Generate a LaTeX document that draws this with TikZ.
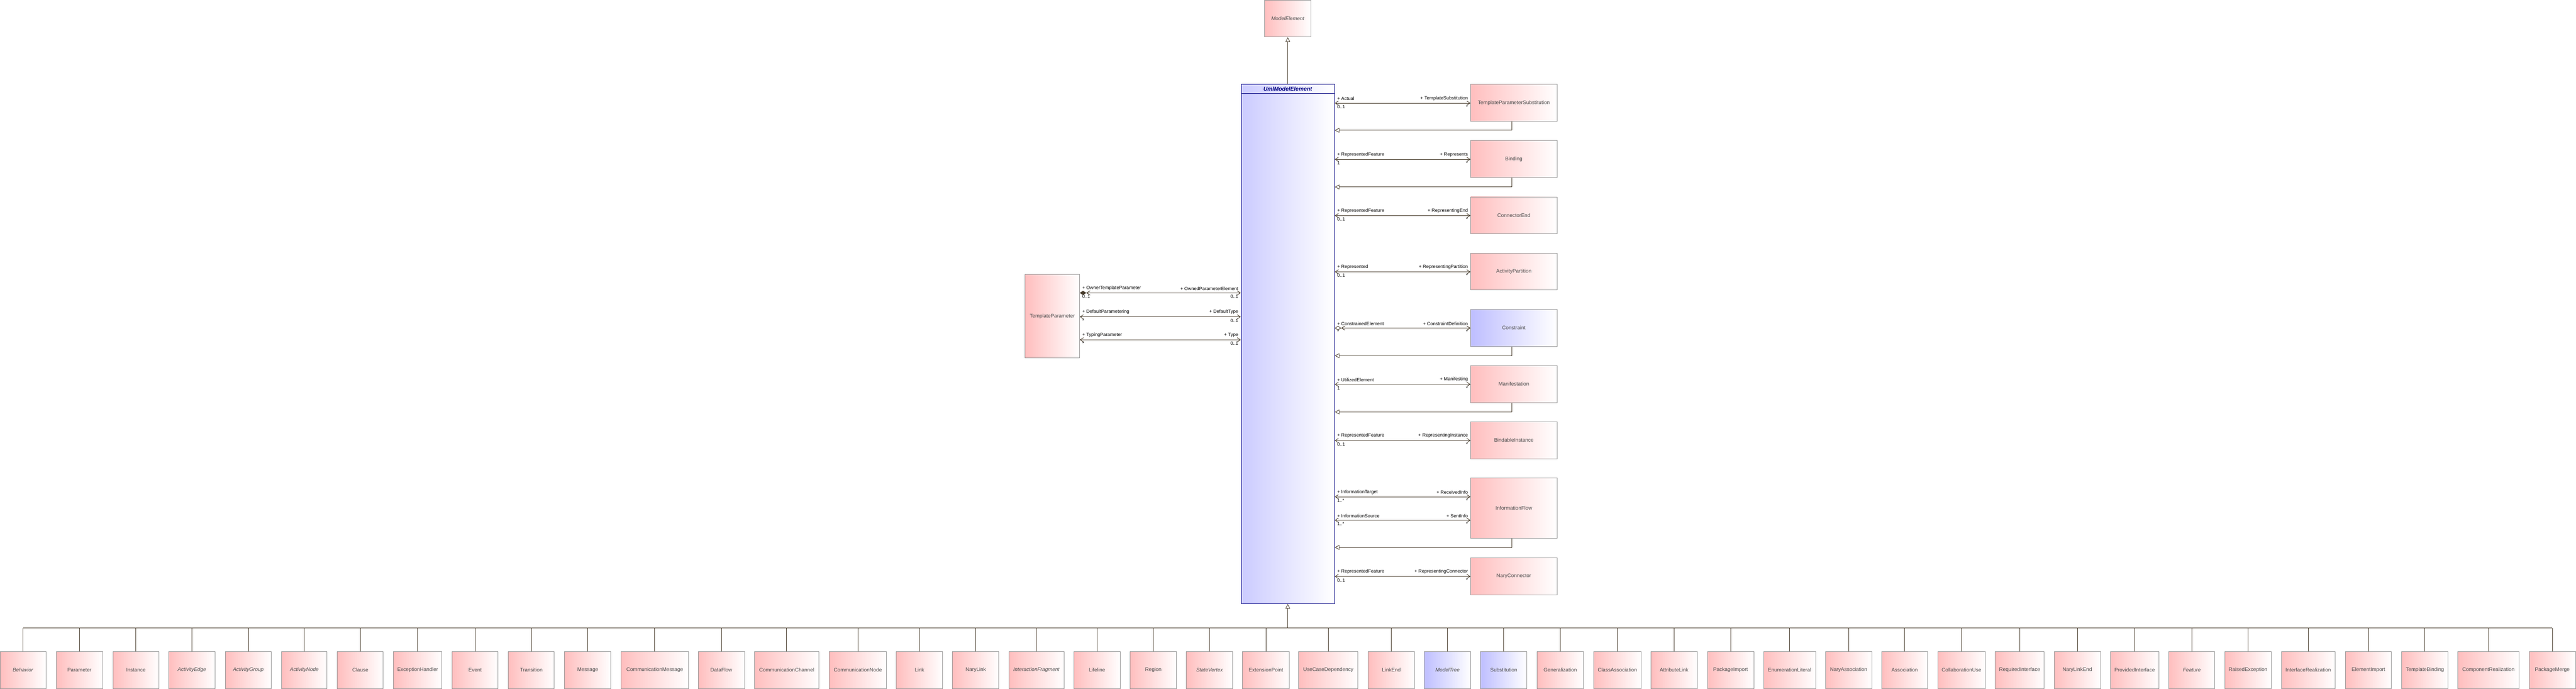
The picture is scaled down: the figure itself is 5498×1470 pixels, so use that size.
\documentclass[tikz,border=0pt]{standalone}
\usepackage{fontspec}
\setmainfont{Liberation Sans}
\usetikzlibrary{arrows.meta,positioning}

\definecolor{pinkL}{RGB}{255,190,190}
\definecolor{blueL}{RGB}{190,190,255}
\definecolor{umlline}{RGB}{70,58,42}
\definecolor{umlgray}{RGB}{150,150,150}
\definecolor{umlnavy}{RGB}{0,0,128}

\tikzset{
  barb/.tip={Straight Barb[length=7pt,width=9pt,line width=1pt]},
  cls/.style={draw=umlgray, line width=1pt, left color=pinkL, right color=white,
    shading angle=90, inner sep=0pt, text=black!70, font=\fontsize{11}{13}\selectfont},
  bcls/.style={cls, left color=blueL},
  icls/.style={cls, font=\fontsize{11}{13}\selectfont\itshape},
  bicls/.style={bcls, font=\fontsize{11}{13}\selectfont\itshape},
  role/.style={font=\fontsize{10}{12}\selectfont, inner sep=2pt},
  assoc/.style={barb-barb, draw=umlline, line width=1pt},
  gen/.style={-{Triangle[open,length=10pt,width=10pt,fill=white]}, draw=umlline, line width=1pt},
  tree/.style={draw=umlline, line width=1pt}
}

\begin{document}
\begin{tikzpicture}[x=1pt, y=-1pt]
\useasboundingbox (0,0) rectangle (5498,1470);

% centre column
\node [icls, minimum width=99pt, minimum height=79pt] (ME) at (2748.5,39.5) {ModelElement};
\node [draw=umlnavy, line width=1.2pt, left color=blueL!80, right color=white, shading angle=90,
  minimum width=199pt, minimum height=1108pt, inner sep=0pt] (UME) at (2748.5,734) {};
\node [font=\fontsize{12}{14}\selectfont\bfseries\itshape, text=umlnavy, below=2pt of UME.north] {UmlModelElement};
\draw [umlnavy, line width=1.2pt] (UME.north west) ++(0,20) -- ++(199,0);
\draw [gen] (UME.north) -- (ME.south);

% right column
\node [cls, minimum width=184pt, minimum height=79pt] (TPS) at (3231,219.5) {TemplateParameterSubstitution};
\node [cls, minimum width=184pt, minimum height=79pt] (Bnd) at (3231,339.5) {Binding};
\node [cls, minimum width=184pt, minimum height=79pt] (CEnd) at (3231,459.5) {ConnectorEnd};
\node [cls, minimum width=184pt, minimum height=79pt] (APart) at (3231,579.5) {ActivityPartition};
\node [bcls, minimum width=184pt, minimum height=79pt] (Cstr) at (3231,699.5) {Constraint};
\node [cls, minimum width=184pt, minimum height=79pt] (Mani) at (3231,819.5) {Manifestation};
\node [cls, minimum width=184pt, minimum height=79pt] (BInst) at (3231,939.5) {BindableInstance};
\node [cls, minimum width=184pt, minimum height=129pt] (IFlow) at (3231,1084.5) {InformationFlow};
\node [cls, minimum width=184pt, minimum height=79pt] (NConn) at (3231,1229.5) {NaryConnector};

\foreach \bx/\y/\lr/\lm/\rr/\rm in {
  TPS/220/Actual/0..1/TemplateSubstitution/*,
  Bnd/340/RepresentedFeature/1/Represents/*,
  CEnd/460/RepresentedFeature/0..1/RepresentingEnd/*,
  APart/580/Represented/0..1/RepresentingPartition/*,
  Mani/820/UtilizedElement/1/Manifesting/*,
  BInst/940/RepresentedFeature/0..1/RepresentingInstance/*,
  IFlow/1060/InformationTarget/1..*/ReceivedInfo/*,
  IFlow/1110/InformationSource/1..*/SentInfo/*,
  NConn/1230/RepresentedFeature/0..1/RepresentingConnector/*}
{
  \draw [assoc] (UME.east |- 0,\y) -- (\bx.west |- 0,\y)
    node [role, pos=0, anchor=south west, xshift=3pt, yshift=3pt] {+ \lr}
    node [role, pos=0, anchor=north west, xshift=3pt, yshift=-2pt] {\lm}
    node [role, pos=1, anchor=south east, xshift=-3pt, yshift=3pt] {+ \rr}
    node [role, pos=1, anchor=north east, xshift=-3pt, yshift=-2pt] {\rm};
}
\draw [{Diamond[open,length=14pt,width=9pt,line width=1pt] barb}-barb, draw=umlline, line width=1pt]
  (UME.east |- 0,700) -- (Cstr.west |- 0,700)
  node [role, pos=0, anchor=south west, xshift=3pt, yshift=3pt] {+ ConstrainedElement}
  node [role, pos=0, anchor=north west, xshift=3pt, yshift=-2pt] {*}
  node [role, pos=1, anchor=south east, xshift=-3pt, yshift=3pt] {+ ConstraintDefinition}
  node [role, pos=1, anchor=north east, xshift=-3pt, yshift=-2pt] {*};

\foreach \bx/\y in {TPS/278, Bnd/399, Cstr/759, Mani/879, IFlow/1168}
  \draw [gen] (\bx.south -| 3227,0) |- (UME.east |- 0,\y);

% left class
\node [cls, minimum width=116pt, minimum height=179pt] (TP) at (2246,674.5) {TemplateParameter};
\draw [{Diamond[length=14pt,width=9pt,line width=1pt] barb}-barb, draw=umlline, line width=1pt]
  (TP.east |- 0,625) -- (UME.west |- 0,625)
  node [role, pos=0, anchor=south west, xshift=3pt, yshift=3pt] {+ OwnerTemplateParameter}
  node [role, pos=0, anchor=north west, xshift=3pt, yshift=-2pt] {0..1}
  node [role, pos=1, anchor=south east, xshift=-3pt, yshift=3pt] {+ OwnedParameterElement}
  node [role, pos=1, anchor=north east, xshift=-3pt, yshift=-2pt] {0..1};
\foreach \y/\lr/\rr in {676/DefaultParametering/DefaultType, 725/TypingParameter/Type}
  \draw [assoc] (TP.east |- 0,\y) -- (UME.west |- 0,\y)
    node [role, pos=0, anchor=south west, xshift=3pt, yshift=3pt] {+ \lr}
    node [role, pos=0, anchor=north west, xshift=3pt, yshift=-2pt] {*}
    node [role, pos=1, anchor=south east, xshift=-3pt, yshift=3pt] {+ \rr}
    node [role, pos=1, anchor=north east, xshift=-3pt, yshift=-2pt] {0..1};

% bottom row of specialisations
\coordinate (bus) at (0,1340);
\foreach \nm/\xa/\xb/\sty in {
  Behavior/0/98/icls, Parameter/120/219/cls, Instance/241/339/cls,
  ActivityEdge/360/459/icls, ActivityGroup/481/579/icls, ActivityNode/601/698/icls,
  Clause/720/818/cls, ExceptionHandler/840/943/cls, Event/965/1063/cls,
  Transition/1085/1183/cls, Message/1205/1304/cls, CommunicationMessage/1326/1469/cls,
  DataFlow/1490/1589/cls, CommunicationChannel/1610/1748/cls, CommunicationNode/1770/1892/cls,
  Link/1913/2012/cls, NaryLink/2033/2132/cls, InteractionFragment/2153/2271/icls,
  Lifeline/2292/2391/cls, Region/2412/2511/cls, StateVertex/2532/2631/icls,
  ExtensionPoint/2652/2752/cls, UseCaseDependency/2772/2898/cls, LinkEnd/2920/3019/cls,
  ModelTree/3040/3139/bicls, Substitution/3160/3259/bcls, Generalization/3281/3379/cls,
  ClassAssociation/3401/3503/cls, AttributeLink/3524/3622/cls, PackageImport/3644/3743/cls,
  EnumerationLiteral/3764/3875/cls, NaryAssociation/3896/3995/cls, Association/4016/4114/cls,
  CollaborationUse/4136/4237/cls, RequiredInterface/4258/4363/cls, NaryLinkEnd/4384/4483/cls,
  ProvidedInterface/4504/4608/cls, Feature/4629/4727/icls, RaisedException/4749/4847/cls,
  InterfaceRealization/4869/4984/cls, ElementImport/5006/5104/cls, TemplateBinding/5126/5225/cls,
  ComponentRealization/5246/5376/cls, PackageMerge/5398/5497/cls}
{
  \pgfmathsetmacro{\w}{\xb-\xa}
  \pgfmathsetmacro{\cx}{(\xa+\xb)/2}
  \node [\sty, minimum width=\w pt, minimum height=79pt] (\nm) at (\cx,1429.5) {\nm};
  \draw [tree] (\nm.north) -- (\nm.north |- bus);
}
\draw [tree] (Behavior.north |- bus) -- (PackageMerge.north |- bus);
\draw [gen] (UME.south |- bus) -- (UME.south);
\end{tikzpicture}
\end{document}
